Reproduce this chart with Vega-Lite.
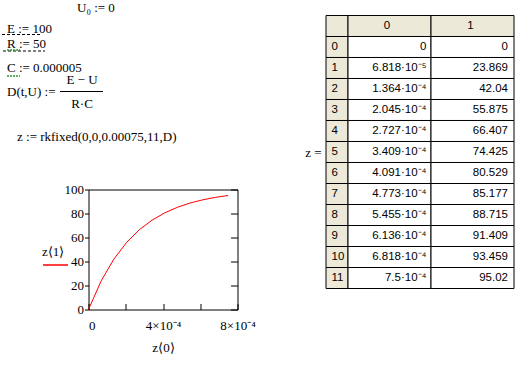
{
  "$schema": "https://vega.github.io/schema/vega-lite/v6.json",
  "padding": 0,
  "background": "white",
  "datasets": {
    "z": [
      {"i": "0", "t": 0, "u": 0, "tl": "0", "ul": "0"},
      {"i": "1", "t": 0.00006818, "u": 23.869, "tl": "6.818·10⁻⁵", "ul": "23.869"},
      {"i": "2", "t": 0.0001364, "u": 42.04, "tl": "1.364·10⁻⁴", "ul": "42.04"},
      {"i": "3", "t": 0.0002045, "u": 55.875, "tl": "2.045·10⁻⁴", "ul": "55.875"},
      {"i": "4", "t": 0.0002727, "u": 66.407, "tl": "2.727·10⁻⁴", "ul": "66.407"},
      {"i": "5", "t": 0.0003409, "u": 74.425, "tl": "3.409·10⁻⁴", "ul": "74.425"},
      {"i": "6", "t": 0.0004091, "u": 80.529, "tl": "4.091·10⁻⁴", "ul": "80.529"},
      {"i": "7", "t": 0.0004773, "u": 85.177, "tl": "4.773·10⁻⁴", "ul": "85.177"},
      {"i": "8", "t": 0.0005455, "u": 88.715, "tl": "5.455·10⁻⁴", "ul": "88.715"},
      {"i": "9", "t": 0.0006136, "u": 91.409, "tl": "6.136·10⁻⁴", "ul": "91.409"},
      {"i": "10", "t": 0.0006818, "u": 93.459, "tl": "6.818·10⁻⁴", "ul": "93.459"},
      {"i": "11", "t": 0.00075, "u": 95.02, "tl": "7.5·10⁻⁴", "ul": "95.02"}
    ],
    "ws": [
      {"kind": "left", "text": "U₀ := 0", "col": 15, "line": 0},
      {"kind": "left", "text": "E := 100", "col": 1, "line": 7},
      {"kind": "left", "text": "R := 50", "col": 1, "line": 12},
      {"kind": "left", "text": "C := 0.000005", "col": 1, "line": 20},
      {"kind": "left", "text": "D(t,U) :=", "col": 1, "line": 28},
      {"kind": "center", "text": "E − U", "col": 16, "line": 24},
      {"kind": "center", "text": "R·C", "col": 16, "line": 32},
      {"kind": "left", "text": "z := rkfixed(0,0,0.00075,11,D)", "col": 3, "line": 43},
      {"kind": "bar", "col": 11.6, "col2": 20.2, "line": 26.5},
      {"kind": "dash", "col": 0, "col2": 7.6, "line": 7.5},
      {"kind": "dash", "col": 0.2, "col2": 8.6, "line": 13},
      {"kind": "squiggle", "col": 1, "col2": 3.6, "line": 12.7},
      {"kind": "squiggle", "col": 1, "col2": 3.6, "line": 21.3}
    ]
  },
  "config": {
    "view": {"stroke": null},
    "font": "Liberation Serif",
    "axis": {
      "labelFont": "Liberation Serif", "labelFontSize": 13, "labelColor": "black",
      "tickColor": "black", "domainColor": "black",
      "titleFont": "Liberation Serif", "titleFontSize": 13, "titleFontWeight": "normal", "titleColor": "black",
      "grid": false
    },
    "text": {"font": "Liberation Serif", "fontSize": 13, "color": "black"}
  },
  "bounds": "full",
  "spacing": -24.35,
  "resolve": {"scale": {"color": "independent"}, "legend": {"color": "independent"}},
  "hconcat": [
    {
      "bounds": "flush",
      "center": true,
      "spacing": 39.5,
      "resolve": {"scale": {"color": "independent"}, "legend": {"color": "independent"}},
      "vconcat": [
        {
          "width": 326,
          "height": 150,
          "data": {"name": "ws"},
          "encoding": {
            "x": {"field": "col", "type": "quantitative", "axis": null, "scale": {"domain": [-0.4, 64.8], "nice": false, "zero": false}},
            "y": {"field": "line", "type": "quantitative", "axis": null, "scale": {"domain": [-4, 46], "nice": false, "zero": false, "reverse": true}}
          },
          "layer": [
            {"transform": [{"filter": "datum.kind === 'left'"}], "mark": {"type": "text", "align": "left", "baseline": "alphabetic"}, "encoding": {"text": {"field": "text"}}},
            {"transform": [{"filter": "datum.kind === 'center'"}], "mark": {"type": "text", "align": "center", "baseline": "alphabetic"}, "encoding": {"text": {"field": "text"}}},
            {"transform": [{"filter": "datum.kind === 'bar'"}], "mark": {"type": "rule", "color": "black", "strokeWidth": 1}, "encoding": {"x2": {"field": "col2"}}},
            {"transform": [{"filter": "datum.kind === 'dash'"}], "mark": {"type": "rule", "color": "black", "strokeWidth": 1, "strokeDash": [3, 2]}, "encoding": {"x2": {"field": "col2"}}},
            {"transform": [{"filter": "datum.kind === 'squiggle'"}], "mark": {"type": "rule", "color": "#2e9a2e", "strokeWidth": 1.5, "strokeDash": [2, 1]}, "encoding": {"x2": {"field": "col2"}}}
          ]
        },
        {
          "width": 149,
          "height": 120,
          "view": {"stroke": "black", "strokeWidth": 1},
          "data": {"name": "z"},
          "encoding": {
            "x": {
              "field": "t", "type": "quantitative",
              "scale": {"domain": [0, 0.0008], "nice": false, "zero": false},
              "axis": {
                "orient": "bottom",
                "values": [0, 0.0002, 0.0004, 0.0006, 0.0008],
                "tickSize": -6,
                "domain": false,
                "labelExpr": "datum.value == 0 ? '0' : (abs(datum.value - 0.0004) < 1e-9 ? '4×10⁻⁴' : (abs(datum.value - 0.0008) < 1e-9 ? '8×10⁻⁴' : ''))",
                "labelAlign": {"condition": {"test": "datum.value == 0", "value": "left"}, "value": "center"},
                "labelFlush": false,
                "labelOverlap": false,
                "labelBaseline": "top",
                "labelPadding": 16,
                "title": "z⟨0⟩",
                "titlePadding": 9
              }
            }
          },
          "layer": [
            {
              "mark": {"type": "line", "strokeWidth": 1},
              "encoding": {
                "y": {
                  "field": "u", "type": "quantitative",
                  "scale": {"domain": [0, 100], "nice": false},
                  "axis": {"orient": "left", "values": [0, 20, 40, 60, 80, 100], "tickSize": 4, "labelPadding": 1, "domain": false, "title": null}
                },
                "color": {
                  "datum": "z⟨1⟩", "type": "nominal",
                  "scale": {"range": ["#ff0000"]},
                  "legend": {
                    "orient": "none", "legendX": -46.5, "legendY": 56,
                    "title": "z⟨1⟩", "titleFont": "Liberation Serif", "titleFontSize": 13, "titleFontWeight": "normal", "titleColor": "black",
                    "titlePadding": -7, "padding": 0,
                    "symbolType": "stroke", "symbolSize": 625, "symbolStrokeWidth": 1.5,
                    "labelExpr": "''"
                  }
                }
              }
            },
            {
              "mark": {"type": "line", "opacity": 0},
              "encoding": {
                "y": {"field": "u", "type": "quantitative", "axis": {"orient": "right", "values": [0, 20, 40, 60, 80, 100], "labels": false, "tickSize": -7, "domain": false, "title": null}}
              }
            }
          ],
          "resolve": {"axis": {"y": "independent"}}
        }
      ]
    },
    {
      "bounds": "flush",
      "spacing": 0,
      "hconcat": [
        {
          "width": 22,
          "height": 304,
          "data": {"name": "z"},
          "encoding": {
            "y": {
              "field": "i", "type": "nominal",
              "scale": {"domain": ["h", "0", "1", "2", "3", "4", "5", "6", "7", "8", "9", "10", "11"], "paddingInner": 0, "paddingOuter": 0.738},
              "axis": {"title": "z =", "labels": false, "ticks": false, "domain": false, "titleAngle": 0, "titleAlign": "right", "titleBaseline": "middle", "titlePadding": 5}
            }
          },
          "layer": [
            {"mark": {"type": "rect", "fill": "#ECE9D8", "stroke": "black", "strokeWidth": 1}, "encoding": {"x": {"value": 0}, "x2": {"value": "width"}}},
            {"data": {"values": [{"i": "h"}]}, "mark": {"type": "rect", "fill": "#ECE9D8", "stroke": "black", "strokeWidth": 1}, "encoding": {"x": {"value": 0}, "x2": {"value": "width"}}},
            {"mark": {"type": "text", "align": "left", "baseline": "middle", "dx": 5.5, "font": "Liberation Sans", "fontSize": 11.5}, "encoding": {"x": {"value": 0}, "text": {"field": "i"}}}
          ]
        },
        {
          "width": 83,
          "height": 304,
          "data": {"name": "z"},
          "encoding": {
            "y": {"field": "i", "type": "nominal", "scale": {"domain": ["h", "0", "1", "2", "3", "4", "5", "6", "7", "8", "9", "10", "11"], "paddingInner": 0, "paddingOuter": 0.738}, "axis": null}
          },
          "layer": [
            {"mark": {"type": "rect", "fill": "white", "stroke": "black", "strokeWidth": 1}, "encoding": {"x": {"value": 0}, "x2": {"value": "width"}}},
            {"data": {"values": [{"i": "h", "label": "0"}]}, "mark": {"type": "rect", "fill": "#ECE9D8", "stroke": "black", "strokeWidth": 1}, "encoding": {"x": {"value": 0}, "x2": {"value": "width"}}},
            {"mark": {"type": "text", "align": "right", "baseline": "middle", "dx": -4.5, "font": "Liberation Sans", "fontSize": 11.5}, "encoding": {"x": {"value": "width"}, "text": {"field": "tl"}}},
            {"data": {"values": [{"i": "h", "label": "0"}]}, "mark": {"type": "text", "align": "center", "baseline": "middle", "dx": -2.5, "font": "Liberation Sans", "fontSize": 11.5}, "encoding": {"text": {"field": "label"}}}
          ]
        },
        {
          "width": 83,
          "height": 304,
          "data": {"name": "z"},
          "encoding": {
            "y": {"field": "i", "type": "nominal", "scale": {"domain": ["h", "0", "1", "2", "3", "4", "5", "6", "7", "8", "9", "10", "11"], "paddingInner": 0, "paddingOuter": 0.738}, "axis": null}
          },
          "layer": [
            {"mark": {"type": "rect", "fill": "white", "stroke": "black", "strokeWidth": 1}, "encoding": {"x": {"value": 0}, "x2": {"value": "width"}}},
            {"data": {"values": [{"i": "h", "label": "1"}]}, "mark": {"type": "rect", "fill": "#ECE9D8", "stroke": "black", "strokeWidth": 1}, "encoding": {"x": {"value": 0}, "x2": {"value": "width"}}},
            {"mark": {"type": "text", "align": "right", "baseline": "middle", "dx": -6, "font": "Liberation Sans", "fontSize": 11.5}, "encoding": {"x": {"value": "width"}, "text": {"field": "ul"}}},
            {"data": {"values": [{"i": "h", "label": "1"}]}, "mark": {"type": "text", "align": "center", "baseline": "middle", "dx": -2, "font": "Liberation Sans", "fontSize": 11.5}, "encoding": {"text": {"field": "label"}}}
          ]
        }
      ]
    }
  ]
}
